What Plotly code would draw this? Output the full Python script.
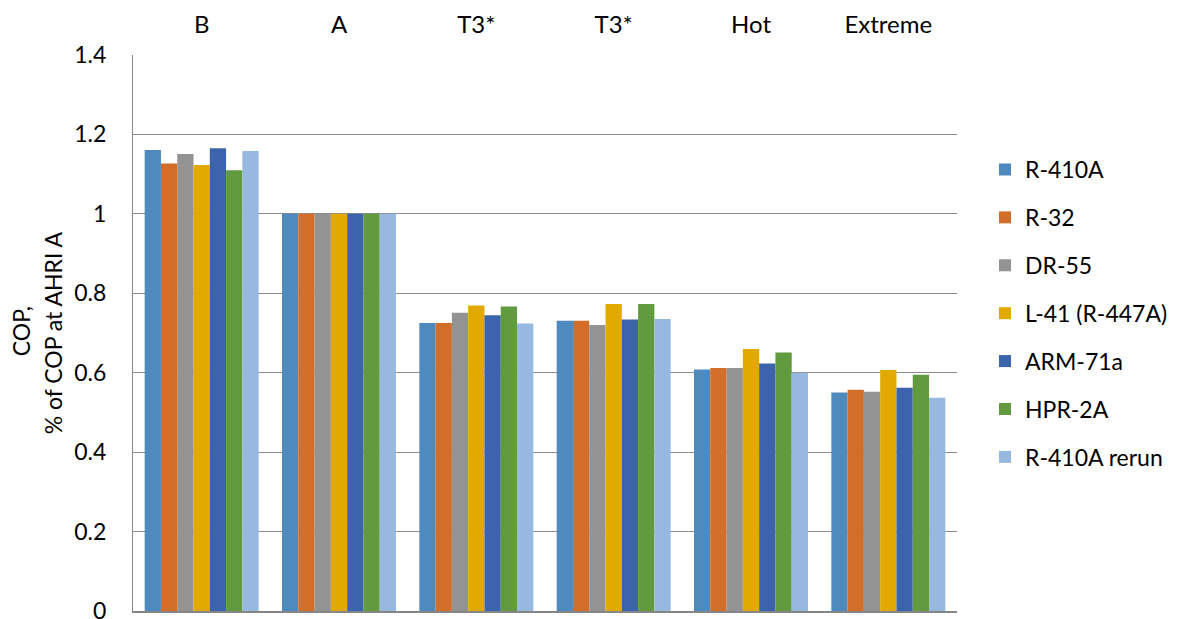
import plotly.graph_objects as go

categories = ["B", "A", "T3*", "T3*", "Hot", "Extreme"]
series_names = ["R-410A", "R-32", "DR-55", "L-41 (R-447A)", "ARM-71a", "HPR-2A", "R-410A rerun"]
r410a = [1.161, 1.0, 0.725, 0.731, 0.608, 0.550]
r32 = [1.127, 1.0, 0.725, 0.731, 0.612, 0.557]
dr55 = [1.151, 1.0, 0.751, 0.720, 0.612, 0.552]
l41 = [1.123, 1.0, 0.769, 0.773, 0.660, 0.607]
arm71a = [1.165, 1.0, 0.745, 0.734, 0.623, 0.562]
hpr2a = [1.110, 1.0, 0.767, 0.773, 0.651, 0.595]
r410a_rerun = [1.158, 1.0, 0.724, 0.735, 0.600, 0.537]
yticks = [0, 0.2, 0.4, 0.6, 0.8, 1, 1.2, 1.4]
ytick_labels = ["0", "0.2", "0.4", "0.6", "0.8", "1", "1.2", "1.4"]

values = [r410a, r32, dr55, l41, arm71a, hpr2a, r410a_rerun]
colors = ["#4E8ABE", "#D26E2A", "#939393", "#E2AA00", "#3C64AD", "#619A3F", "#97B9E0"]

FONT = "Lato"
positions = list(range(len(categories)))

fig = go.Figure()
for name, vals, col in zip(series_names, values, colors):
    fig.add_trace(go.Bar(
        x=positions, y=vals, name=name, legendgroup=name,
        marker=dict(color=col, line=dict(width=0)),
        xaxis="x", yaxis="y",
    ))

# invisible trace to activate top axis
fig.add_trace(go.Bar(x=positions, y=[None] * len(positions), xaxis="x2", yaxis="y",
                     showlegend=False, hoverinfo="skip"))

fig.update_layout(
    width=1177, height=619,
    margin=dict(l=125, r=225, t=47, b=16),
    paper_bgcolor="white", plot_bgcolor="white",
    barmode="group", bargap=0.17, bargroupgap=0,
    font=dict(family=FONT, size=23, color="#000000"),
    showlegend=True,
    legend=dict(
        x=1.034, xanchor="left", y=0.535, yanchor="middle",
        traceorder="grouped", tracegroupgap=15,
        font=dict(family=FONT, size=23, color="#000000"),
        bgcolor="rgba(0,0,0,0)",
    ),
    xaxis=dict(
        range=[-0.5, 5.5], showgrid=False, zeroline=False, automargin=False,
        showline=True, linecolor="#868686", linewidth=2,
        showticklabels=False, ticks="",
    ),
    xaxis2=dict(
        overlaying="x", side="top", range=[-0.5, 5.5], automargin=False,
        tickmode="array", tickvals=positions, ticktext=categories,
        showgrid=False, zeroline=False, showline=False,
        ticks="outside", ticklen=11, tickcolor="rgba(0,0,0,0)",
        tickfont=dict(family=FONT, size=24, color="#000000"),
    ),
    yaxis=dict(
        range=[0, 1.4], tickmode="array", tickvals=yticks, ticktext=ytick_labels,
        automargin=False,
        showgrid=True, gridcolor="#8C8C8C", gridwidth=1,
        zeroline=False, showline=True, linecolor="#8C8C8C", linewidth=1,
        ticks="outside", ticklen=21, tickcolor="rgba(0,0,0,0)",
        tickfont=dict(family=FONT, size=23, color="#000000"),
    ),
)

fig.add_annotation(
    text="COP,", textangle=-90,
    xref="paper", yref="paper", x=-0.1366, y=0.504,
    xanchor="center", yanchor="middle", showarrow=False,
    font=dict(family=FONT, size=23, color="#000000"),
)
fig.add_annotation(
    text="% of COP at AHRI A", textangle=-90,
    xref="paper", yref="paper", x=-0.0967, y=0.5,
    xanchor="center", yanchor="middle", showarrow=False,
    font=dict(family=FONT, size=23, color="#000000"),
)

fig.write_html("out.html")
